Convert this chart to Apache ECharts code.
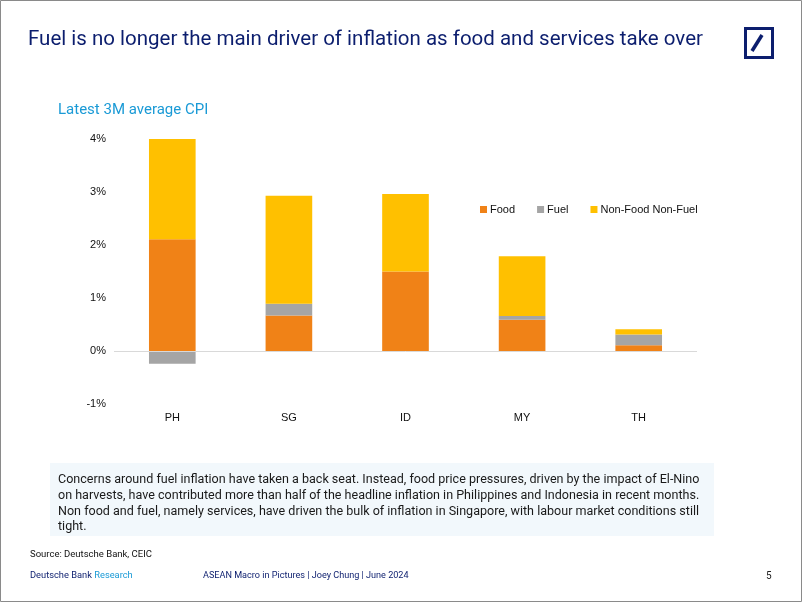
<!DOCTYPE html>
<html><head><meta charset="utf-8">
<script src="https://cdn.jsdelivr.net/npm/echarts@6/dist/echarts.min.js"></script>
<style>html,body{margin:0;padding:0;background:#fff}#c{width:802px;height:602px}</style>
</head><body><div id="c"></div>
<script>
var categories = ['PH', 'SG', 'ID', 'MY', 'TH'];
var food = [2.11, 0.67, 1.50, 0.59, 0.11];
var fuel = [-0.24, 0.22, 0.00, 0.07, 0.20];
var nonFoodNonFuel = [1.89, 2.04, 1.46, 1.13, 0.10];
var seriesNames = ['Food', 'Fuel', 'Non-Food Non-Fuel'];
var bodyLines = [
  'Concerns around fuel inflation have taken a back seat. Instead, food price pressures, driven by the impact of El-Nino',
  'on harvests, have contributed more than half of the headline inflation in Philippines and Indonesia in recent months.',
  'Non food and fuel, namely services, have driven the bulk of inflation in Singapore, with labour market conditions still',
  'tight.'
];

var navy = '#0c1e6e';
var chart = echarts.init(document.getElementById('c'), null, {renderer: 'canvas'});
var tf = 'Roboto, "Liberation Sans", sans-serif';
var af = '"Liberation Sans", Arial, sans-serif';

var graphics = [
  {type: 'rect', shape: {x: 0.5, y: 0.5, width: 801, height: 601}, style: {fill: 'none', stroke: '#8a8a8a', lineWidth: 1}, silent: true},
  {type: 'text', x: 28, y: 40, style: {text: 'Fuel is no longer the main driver of inflation as food and services take over', font: '20.5px ' + tf, fill: navy, verticalAlign: 'middle'}},
  {type: 'rect', shape: {x: 745.5, y: 28.5, width: 27, height: 29}, style: {fill: '#fff', stroke: navy, lineWidth: 3}},
  {type: 'line', shape: {x1: 752, y1: 51, x2: 762, y2: 35}, style: {stroke: navy, lineWidth: 3.5}},
  {type: 'text', x: 58, y: 110, style: {text: 'Latest 3M average CPI', font: '15px ' + tf, fill: '#1a9ad6', verticalAlign: 'middle'}},
  {type: 'rect', shape: {x: 50, y: 463, width: 664, height: 73}, style: {fill: '#f2f8fc'}},
  {type: 'text', x: 30, y: 555, style: {text: 'Source: Deutsche Bank, CEIC', font: '9.5px ' + tf, fill: '#111', verticalAlign: 'middle'}},
  {type: 'text', x: 30, y: 576, style: {text: '{a|Deutsche Bank }{b|Research}', verticalAlign: 'middle', rich: {a: {font: '9.3px ' + tf, fill: navy}, b: {font: '9.3px ' + tf, fill: '#1a9ad6'}}}},
  {type: 'text', x: 203, y: 576, style: {text: 'ASEAN Macro in Pictures | Joey Chung | June 2024', font: '9.1px ' + tf, fill: navy, verticalAlign: 'middle'}},
  {type: 'text', x: 766, y: 576, style: {text: '5', font: '10px ' + tf, fill: '#222', verticalAlign: 'middle'}}
];
bodyLines.forEach(function (t, i) {
  graphics.push({type: 'text', x: 58, y: 480 + i * 15.7, style: {text: t, font: '12.55px ' + tf, fill: '#1a1a1a', verticalAlign: 'middle'}});
});

chart.setOption({
  animation: false,
  backgroundColor: '#fff',
  color: ['#f08217', '#a5a5a5', '#ffc000'],
  legend: {
    data: seriesNames, left: 475, top: 199, itemWidth: 7, itemHeight: 7, itemGap: 22, icon: 'rect',
    textStyle: {fontFamily: af, fontSize: 11, color: '#111', padding: [0, 0, 0, -2]}
  },
  grid: {left: 114, right: 105, top: 139, bottom: 198, containLabel: false},
  xAxis: {
    type: 'category', data: categories,
    axisLine: {show: false}, axisTick: {show: false},
    axisLabel: {fontFamily: af, fontSize: 11, color: '#111', margin: 8}
  },
  yAxis: {
    type: 'value', min: -1, max: 4, interval: 1,
    splitLine: {show: false}, axisLine: {show: false}, axisTick: {show: false},
    axisLabel: {formatter: '{value}%', fontFamily: af, fontSize: 11, color: '#111', margin: 8}
  },
  series: [
    {name: seriesNames[0], type: 'bar', stack: 'cpi', data: food, barWidth: '40%',
     markLine: {silent: true, symbol: 'none', label: {show: false}, lineStyle: {color: '#d9d9d9', type: 'solid', width: 1}, data: [{yAxis: 0}]}},
    {name: seriesNames[1], type: 'bar', stack: 'cpi', data: fuel, barWidth: '40%'},
    {name: seriesNames[2], type: 'bar', stack: 'cpi', data: nonFoodNonFuel, barWidth: '40%'}
  ],
  graphic: graphics
});
</script></body></html>
